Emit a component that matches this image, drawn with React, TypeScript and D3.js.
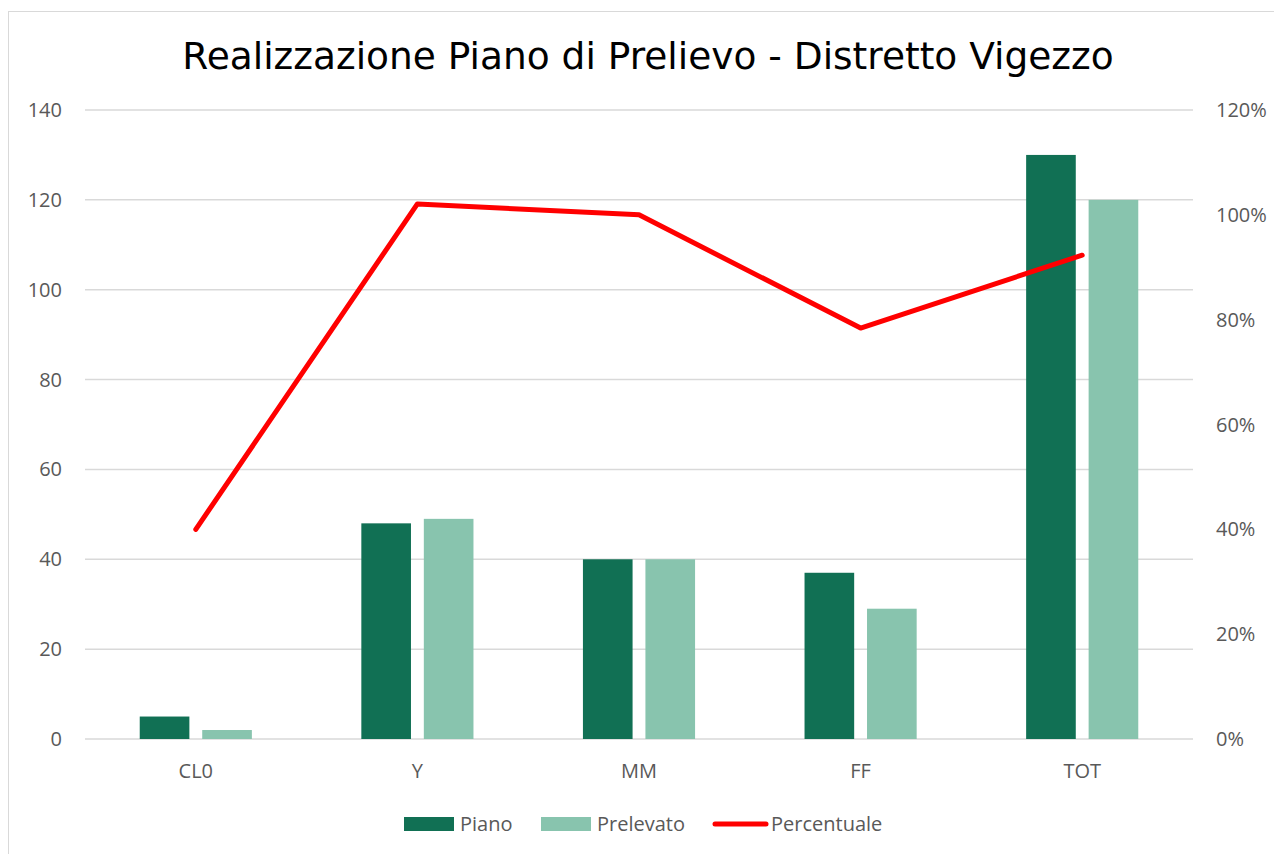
import React from 'react';
import * as d3 from 'd3';

const categories = ['CL0', 'Y', 'MM', 'FF', 'TOT'];
const piano = [5, 48, 40, 37, 130];
const prelevato = [2, 49, 40, 29, 120];
const percentuale = [0.4, 1.0208, 1.0, 0.784, 0.923];
const leftTicks = [0, 20, 40, 60, 80, 100, 120, 140];
const rightTicks = [0, 0.2, 0.4, 0.6, 0.8, 1.0, 1.2];

const W = 1274;
const H = 854;
const font = "'Open Sans', 'DejaVu Sans', sans-serif";
const titleFont = "'DejaVu Sans', 'Open Sans', sans-serif";

const App = () => {
  const margin = { left: 85, right: 81, top: 110, bottom: 115 };
  const x = d3.scaleBand<string>()
    .domain(categories)
    .range([margin.left, W - margin.right]);
  const y = d3.scaleLinear().domain([0, 140]).range([H - margin.bottom, margin.top]);
  const y2 = d3.scaleLinear().domain([0, 1.2]).range([H - margin.bottom, margin.top]);

  const bw = x.bandwidth();
  const barW = bw * 0.224;
  const pad = bw * 0.247;
  const gap = bw - 2 * pad - 2 * barW;

  const line = d3.line<number>()
    .x((_, i) => (x(categories[i]) as number) + bw / 2)
    .y(d => y2(d));

  return (
    <svg width={W} height={H} style={{ position: 'absolute', left: 0, top: 0, background: '#fff' }}>
      <rect x={8.5} y={11.5} width={W} height={H} fill="#fff" stroke="#d9d9d9" />
      <text x={648} y={69} textAnchor="middle" fontFamily={titleFont} fontSize={37.5} fill="#000">
        Realizzazione Piano di Prelievo - Distretto Vigezzo
      </text>
      {leftTicks.map(t => (
        <g key={t}>
          <line x1={margin.left} x2={W - margin.right} y1={y(t)} y2={y(t)} stroke="#d9d9d9" strokeWidth={1.5} />
          <text x={62} y={y(t)} dy="0.35em" textAnchor="end" fontFamily={font} fontSize={20} fill="#595959">{t}</text>
        </g>
      ))}
      {rightTicks.map(t => (
        <text key={t} x={1216} y={y2(t)} dy="0.35em" textAnchor="start" fontFamily={font} fontSize={20} fill="#595959">
          {d3.format('.0%')(t)}
        </text>
      ))}
      {categories.map((c, i) => {
        const x0 = x(c) as number;
        return (
          <g key={c}>
            <rect x={x0 + pad} y={y(piano[i])} width={barW} height={y(0) - y(piano[i])} fill="#117054" />
            <rect x={x0 + pad + barW + gap} y={y(prelevato[i])} width={barW} height={y(0) - y(prelevato[i])} fill="#88c4ae" />
            <text x={x0 + bw / 2} y={771} dy="0.35em" textAnchor="middle" fontFamily={font} fontSize={20} fill="#595959">{c}</text>
          </g>
        );
      })}
      <path d={line(percentuale) || ''} fill="none" stroke="#ff0000" strokeWidth={5} strokeLinejoin="round" strokeLinecap="round" />
      <g fontFamily={font} fontSize={20} fill="#595959">
        <rect x={404} y={817} width={50} height={14} fill="#117054" />
        <text x={460} y={824} dy="0.35em">Piano</text>
        <rect x={541} y={817} width={50} height={14} fill="#88c4ae" />
        <text x={597} y={824} dy="0.35em">Prelevato</text>
        <line x1={715} x2={766} y1={824} y2={824} stroke="#ff0000" strokeWidth={5} strokeLinecap="round" />
        <text x={771} y={824} dy="0.35em">Percentuale</text>
      </g>
    </svg>
  );
};

export default App;
